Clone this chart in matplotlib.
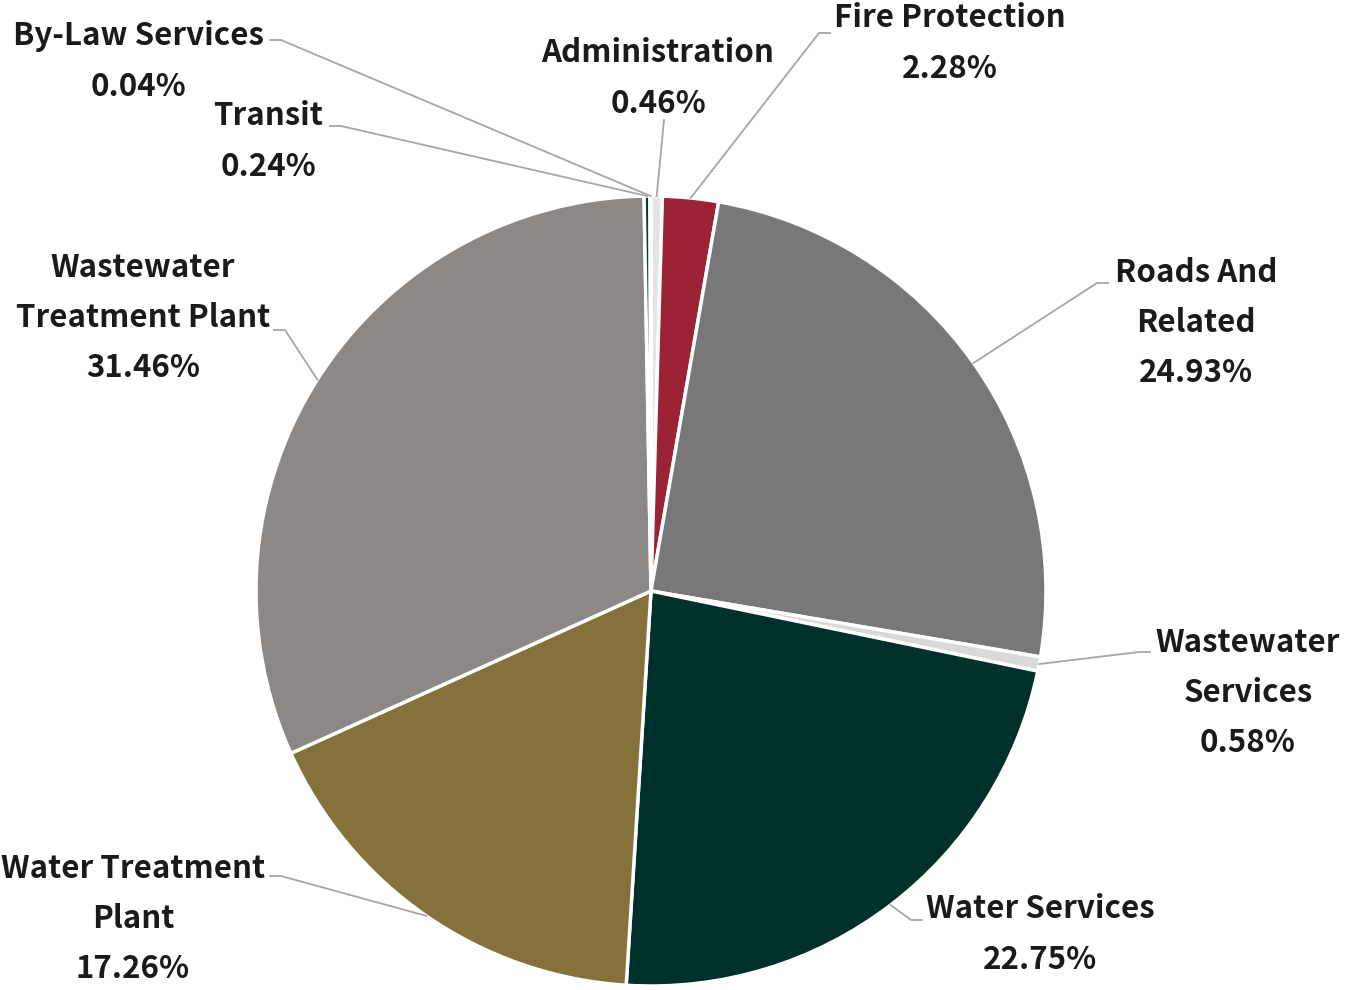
"""
Capital budget share by service area (pie with leader-line labels)
"""
import numpy as np
import matplotlib.pyplot as plt

# --- Data ---
categories = ['Administration', 'Fire Protection', 'Roads And\nRelated', 'Wastewater\nServices',
              'Water Services', 'Water Treatment\nPlant', 'Wastewater\nTreatment Plant',
              'Transit', 'By-Law Services']
shares = [0.46, 2.28, 24.93, 0.58, 22.75, 17.26, 31.46, 0.24, 0.04]
colors = ['#E4E4E4', '#9B2335', '#787878', '#D9D9D9', '#00302A', '#85723A', '#8C8886',
          '#0B3B2E', '#1F3A5F']

# label layout (pixel coords, y from top): first-line centre, leader start
label_pos = [(658, 52), (950, 17), (1196, 270), (1248, 640), (1040, 908),
             (133, 866), (143, 265), (268, 115), (138, 35)]
elbow_start = [(664, 120), (830, 33), (1108, 283), (1150, 652), (922, 920),
               (270, 876), (274, 330), (330, 126), (270, 40)]

W, H = 1349, 990
cx, cy, R = 651, H - 591, 395

plt.rcParams['font.family'] = ['Noto Sans CJK JP', 'DejaVu Sans']

fig = plt.figure(figsize=(W / 100, H / 100), dpi=100)
ax = fig.add_axes([0, 0, 1, 1])

ax.pie(shares, colors=colors, startangle=90, counterclock=False, center=(cx, cy), radius=R,
       wedgeprops=dict(edgecolor='white', linewidth=2.5), frame=True)
ax.set_xlim(0, W)
ax.set_ylim(0, H)
ax.set_aspect('equal')
ax.axis('off')

cum = np.cumsum([0] + shares[:-1])
line_col = '#A6A6A6'
for i, (cat, v) in enumerate(zip(categories, shares)):
    mid = 90 - 360 * (cum[i] + v / 2) / 100
    ex = cx + R * np.cos(np.radians(mid))
    ey = cy + R * np.sin(np.radians(mid))
    lx, ly = label_pos[i]
    n_lines = cat.count('\n') + 1
    txt = f'{cat}\n{v:.2f}%'
    block_mid = ly + 53 * n_lines / 2
    ax.text(lx, H - block_mid, txt, ha='center', va='center', fontsize=22.5,
            fontweight='bold', color='#1A1A1A', linespacing=1.73)
    sx, sy = elbow_start[i]
    if i == 0:
        ax.plot([sx, ex], [H - sy, ey], color=line_col, lw=1.3)
    else:
        step = 11 if sx < ex else -11
        ax.plot([sx, sx + step, ex], [H - sy, H - sy, ey], color=line_col, lw=1.3)

plt.savefig('out.png', dpi=100)
plt.close()
print("Done: out.png")
